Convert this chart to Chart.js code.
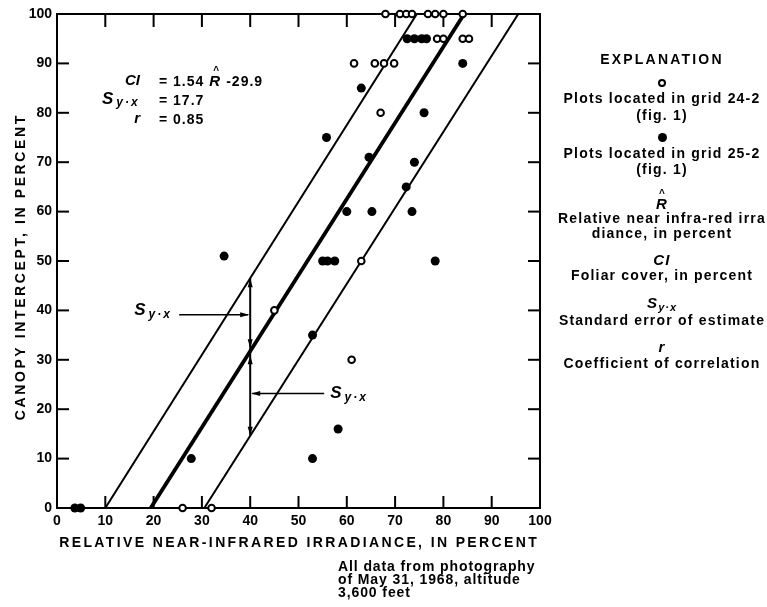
<!DOCTYPE html>
<html>
<head>
<meta charset="utf-8">
<title>Canopy intercept vs relative near-infrared irradiance</title>
<script src="https://cdn.jsdelivr.net/npm/chart.js@4.4.1/dist/chart.umd.min.js"></script>
<style>
  html, body { margin: 0; padding: 0; background: #fff; }
  #wrap { position: relative; width: 767px; height: 607px; overflow: hidden;
          font-family: "Liberation Sans", Arial, sans-serif; font-weight: bold; color: #000; }
  #chart { position: absolute; left: 0; top: 0; }
  .ln { position: absolute; left: 557px; width: 210px; text-align: center; font-size: 14px;
        line-height: 14px; letter-spacing: 1.2px; white-space: nowrap; }
  .head { font-size: 14px; letter-spacing: 2.2px; }
  .sym { font-style: italic; font-size: 15px; }
  .sub { font-size: 11px; position: relative; top: 3px; letter-spacing: 1px; }
  .hatR { position: relative; display: inline-block; }
  .hatR span { position: absolute; left: 3px; top: -10px; font-size: 10px; font-style: normal; }
  .dot { display: inline-block; border-radius: 50%; box-sizing: border-box; }
  .open { width: 8px; height: 8px; border: 2px solid #000; background: #fff; }
  .full { width: 9px; height: 9px; background: #000; }
  .note { position: absolute; left: 338px; top: 560px; font-size: 14px; line-height: 13px; letter-spacing: 0.9px; }
</style>
</head>
<body>
<div id="wrap">
  <canvas id="chart" width="767" height="607"></canvas>

  <div class="ln head" style="top:52px">EXPLANATION</div>
  <div class="ln" style="top:75px"><span class="dot open"></span></div>
  <div class="ln" style="top:91px">Plots located in grid 24-2</div>
  <div class="ln" style="top:108px">(fig. 1)</div>
  <div class="ln" style="top:130px"><span class="dot full"></span></div>
  <div class="ln" style="top:146px">Plots located in grid 25-2</div>
  <div class="ln" style="top:162px">(fig. 1)</div>
  <div class="ln sym" style="top:197px"><span class="hatR">R<span>^</span></span></div>
  <div class="ln" style="top:211px">Relative near infra-red irra</div>
  <div class="ln" style="top:226px">diance, in percent</div>
  <div class="ln sym" style="top:253px">CI</div>
  <div class="ln" style="top:268px">Foliar cover, in percent</div>
  <div class="ln sym" style="top:296px">S<span class="sub">y·x</span></div>
  <div class="ln" style="top:313px">Standard error of estimate</div>
  <div class="ln sym" style="top:340px">r</div>
  <div class="ln" style="top:356px">Coefficient of correlation</div>

  <div class="note">All data from photography<br>of May 31, 1968, altitude<br>3,600 feet</div>
</div>

<script>
// tick values on both axes
const xTickValues = [0, 10, 20, 30, 40, 50, 60, 70, 80, 90, 100];
const yTickValues = [0, 10, 20, 30, 40, 50, 60, 70, 80, 90, 100];

// plots in grid 24-2 (open circles)
const grid24R  = [68, 71, 72.3, 73.5, 76.8, 78.3, 80, 84, 78.7, 80, 84, 85.3, 61.5, 65.8, 67.7, 69.8, 67, 63, 45, 61, 26, 32];
const grid24CI = [100, 100, 100, 100, 100, 100, 100, 100, 95, 95, 95, 95, 90, 90, 90, 90, 80, 50, 40, 30, 0, 0];

// plots in grid 25-2 (filled circles)
const grid25R  = [72.5, 74, 75.5, 76.5, 84, 63, 76, 55.8, 64.6, 74, 72.3, 60, 65.2, 73.5, 55, 56, 57.5, 78.3, 34.6, 52.9, 58.2, 52.9, 27.8, 3.7, 4.9];
const grid25CI = [95, 95, 95, 95, 90, 85, 80, 75, 71, 70, 65, 60, 60, 60, 50, 50, 50, 50, 51, 35, 16, 10, 10, 0, 0];

// regression line and the two standard-error lines (ends at CI 0 and 100)
const lineCI = [0, 100];
const fitR   = [19.4, 84.3];
const upperR = [10, 74.5];
const lowerR = [30.5, 95.5];

// where the Sy.x dimension marker sits on the R axis
const markerR = 40;

const pts = (xs, ys) => xs.map((v, i) => ({x: v, y: ys[i]}));
const ciAt = (xs, r) => lineCI[0] + (r - xs[0]) * (lineCI[1] - lineCI[0]) / (xs[1] - xs[0]);

const FONT = '"Liberation Sans", Arial, sans-serif';

function line(ctx, x1, y1, x2, y2) {
  ctx.beginPath(); ctx.moveTo(x1, y1); ctx.lineTo(x2, y2); ctx.stroke();
}
function arrowHead(ctx, tx, ty, dx, dy, len, half) {
  const bx = tx - dx * len, by = ty - dy * len;
  ctx.beginPath();
  ctx.moveTo(tx, ty);
  ctx.lineTo(bx - dy * half, by + dx * half);
  ctx.lineTo(bx + dy * half, by - dx * half);
  ctx.closePath(); ctx.fill();
}
function spacedText(ctx, text, cx, cy, width) {
  ctx.letterSpacing = '0px';
  const w = ctx.measureText(text).width;
  const sp = Math.max(0, (width - w) / text.length);
  ctx.letterSpacing = sp + 'px';
  ctx.fillText(text, cx + sp / 2, cy);
  ctx.letterSpacing = '0px';
}
// "Sy.x" symbol, left edge at x, centre at y
function syx(ctx, x, y) {
  ctx.textAlign = 'left'; ctx.textBaseline = 'middle';
  ctx.font = 'bold italic 17px ' + FONT;
  ctx.fillText('S', x, y);
  const w = ctx.measureText('S').width;
  ctx.font = 'bold italic 12px ' + FONT;
  ctx.letterSpacing = '2px';
  ctx.fillText('y·x', x + w + 3, y + 4);
  ctx.letterSpacing = '0px';
}

const decor = {
  id: 'decor',
  beforeDatasetsDraw(chart) {
    const {ctx, chartArea: a, scales: {x, y}} = chart;
    ctx.save();
    ctx.strokeStyle = '#000';
    ctx.lineWidth = 2;
    ctx.strokeRect(a.left, a.top, a.right - a.left, a.bottom - a.top);
    xTickValues.forEach(v => {
      const px = x.getPixelForValue(v);
      line(ctx, px, a.bottom, px, a.bottom - 12);
      line(ctx, px, a.top, px, a.top + 13);
    });
    yTickValues.forEach(v => {
      const py = y.getPixelForValue(v);
      line(ctx, a.left, py, a.left + 12, py);
      line(ctx, a.right, py, a.right - 12, py);
    });

    // axis titles
    ctx.fillStyle = '#000';
    ctx.font = 'bold 14px ' + FONT;
    ctx.textAlign = 'center'; ctx.textBaseline = 'middle';
    spacedText(ctx, 'RELATIVE NEAR-INFRARED IRRADIANCE, IN PERCENT', 298, 543, 480);
    ctx.save();
    ctx.translate(21, 268);
    ctx.rotate(-Math.PI / 2);
    spacedText(ctx, 'CANOPY INTERCEPT, IN PERCENT', 0, 0, 307);
    ctx.restore();
    ctx.restore();
  },
  afterDatasetsDraw(chart) {
    const {ctx, scales: {x, y}} = chart;
    ctx.save();
    ctx.fillStyle = '#000'; ctx.strokeStyle = '#000';

    // equation block
    ctx.textBaseline = 'middle';
    ctx.font = 'bold italic 15px ' + FONT;
    ctx.textAlign = 'right';
    ctx.fillText('CI', 140, 81);
    ctx.fillText('r', 140, 119);
    syx(ctx, 102, 99);
    ctx.textAlign = 'left';
    ctx.font = 'bold 14px ' + FONT;
    ctx.letterSpacing = '1px';
    ctx.fillText('= 1.54', 159, 82);
    let cx = 159 + ctx.measureText('= 1.54 ').width;
    ctx.font = 'bold italic 15px ' + FONT;
    ctx.fillText('R', cx, 82);
    ctx.font = 'bold 10px ' + FONT;
    ctx.fillText('^', cx + 4, 71);
    ctx.font = 'bold italic 15px ' + FONT;
    cx += ctx.measureText('R ').width;
    ctx.font = 'bold 14px ' + FONT;
    ctx.fillText('-29.9', cx, 82);
    ctx.fillText('= 17.7', 159, 101);
    ctx.fillText('= 0.85', 159, 120);
    ctx.letterSpacing = '0px';

    // Sy.x dimension marker
    const mx = x.getPixelForValue(markerR);
    const top = y.getPixelForValue(ciAt(upperR, markerR));
    const mid = y.getPixelForValue(ciAt(fitR, markerR));
    const bot = y.getPixelForValue(ciAt(lowerR, markerR));
    ctx.lineWidth = 2;
    line(ctx, mx, top, mx, bot);
    arrowHead(ctx, mx, top, 0, -1, 9, 2.5);
    arrowHead(ctx, mx, mid - 3, 0, 1, 9, 2.5);
    arrowHead(ctx, mx, mid + 4, 0, -1, 9, 2.5);
    arrowHead(ctx, mx, bot, 0, 1, 9, 2.5);

    ctx.lineWidth = 1.5;
    const upY = (top + mid) / 2;
    line(ctx, mx - 71, upY, mx - 2, upY);
    arrowHead(ctx, mx - 1, upY, 1, 0, 9, 2.5);
    syx(ctx, mx - 116, upY - 4);

    const loY = (mid + bot) / 2;
    line(ctx, mx + 2, loY, mx + 74, loY);
    arrowHead(ctx, mx + 1, loY, -1, 0, 9, 2.5);
    syx(ctx, mx + 80, loY);
    ctx.restore();
  }
};

new Chart(document.getElementById('chart'), {
  type: 'scatter',
  data: {
    datasets: [
      { data: pts(grid24R, grid24CI), pointRadius: 3.3, borderWidth: 2,
        borderColor: '#000', backgroundColor: '#fff', order: 1, clip: false },
      { data: pts(grid25R, grid25CI), pointRadius: 4.5, borderWidth: 0,
        borderColor: '#000', backgroundColor: '#000', order: 1, clip: false },
      { data: pts(fitR, lineCI), showLine: true, pointRadius: 0, borderWidth: 3.8,
        borderColor: '#000', order: 2 },
      { data: pts(upperR, lineCI), showLine: true, pointRadius: 0, borderWidth: 2,
        borderColor: '#000', order: 2 },
      { data: pts(lowerR, lineCI), showLine: true, pointRadius: 0, borderWidth: 2,
        borderColor: '#000', order: 2 }
    ]
  },
  options: {
    responsive: false,
    animation: false,
    events: [],
    layout: { padding: { left: 0, right: 227, top: 14, bottom: 0 } },
    plugins: { legend: { display: false }, tooltip: { enabled: false } },
    scales: {
      x: {
        type: 'linear', min: 0, max: 100,
        afterBuildTicks: s => { s.ticks = xTickValues.map(v => ({ value: v })); },
        afterFit: s => { s.height = 99; },
        grid: { display: false, drawTicks: false },
        border: { display: false },
        ticks: { color: '#000', padding: 5, maxRotation: 0, font: { family: FONT, size: 14, weight: 'bold' } }
      },
      y: {
        type: 'linear', min: 0, max: 100,
        afterBuildTicks: s => { s.ticks = yTickValues.map(v => ({ value: v })); },
        afterFit: s => { s.width = 57; },
        grid: { display: false, drawTicks: false },
        border: { display: false },
        ticks: { color: '#000', padding: 5, font: { family: FONT, size: 14, weight: 'bold' } }
      }
    }
  },
  plugins: [decor]
});
</script>
</body>
</html>
